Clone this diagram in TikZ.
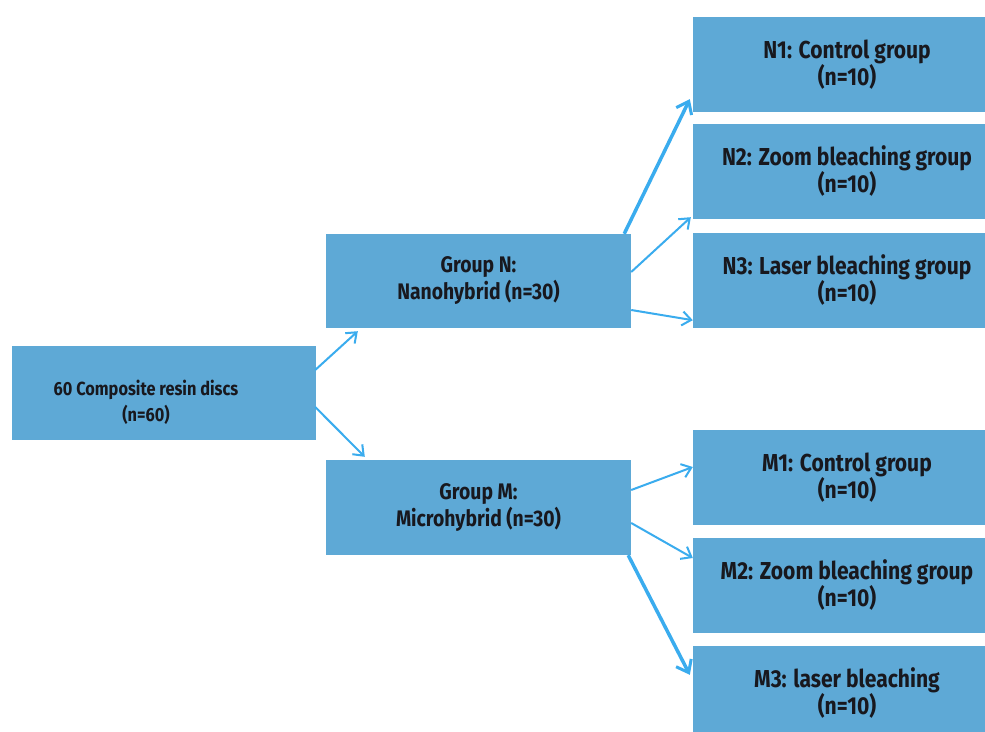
\documentclass[tikz,border=0pt]{standalone}
\usepackage{fontspec}
\setmainfont{Fira Sans}[FakeStretch=0.86]
\usetikzlibrary{calc,arrows.meta}
\definecolor{boxblue}{RGB}{94,169,214}
\definecolor{arrowblue}{RGB}{58,172,238}
\definecolor{txtdark}{RGB}{24,24,30}
\begin{document}
\begin{tikzpicture}[x=1pt,y=-1pt,
  bluebox/.style={fill=boxblue,draw=none,minimum width=#1,minimum height=95pt,inner sep=0pt,anchor=center},
  bluebox/.default=305pt,
  bigtxt/.style={text=txtdark,font=\bfseries\fontsize{24.5}{27}\selectfont,align=center},
  midtxt/.style={text=txtdark,font=\bfseries\fontsize{22.5}{27}\selectfont,align=center},
  smalltxt/.style={text=txtdark,font=\bfseries\fontsize{19}{26}\selectfont,align=center},
  conn/.style={draw=arrowblue,line width=2pt,-{Straight Barb[length=9pt,width=14pt,line width=2pt]}},
  thickconn/.style={draw=arrowblue,line width=3.5pt,-{Straight Barb[length=11pt,width=17pt,line width=3pt]}}
]
\useasboundingbox (0,0) rectangle (985,731);
\fill[white] (0,0) rectangle (985,731);
% boxes
\node[bluebox=304pt,minimum height=94pt] (root) at (164,393) {};
\node[smalltxt] (roottxt) at (146,402) {60 Composite resin discs\\(n=60)};
\node[bluebox,minimum height=94pt,midtxt] (N) at (478.5,281) {Group N:\\Nanohybrid (n=30)};
\node[bluebox,midtxt] (M) at (478.5,507.5) {Group M:\\Microhybrid (n=30)};
\node[bluebox=308pt,bigtxt] (N1) at (847,64.5) {N1: Control group\\(n=10)};
\node[bluebox=308pt,bigtxt] (N2) at (847,171.5) {N2: Zoom bleaching group\\(n=10)};
\node[bluebox=308pt,bigtxt] (N3) at (847,280.5) {N3: Laser bleaching group\\(n=10)};
\node[bluebox=308pt,bigtxt] (M1) at (847,477.5) {M1: Control group\\(n=10)};
\node[bluebox=308pt,bigtxt] (M2) at (847,585.5) {M2: Zoom bleaching group\\(n=10)};
\node[bluebox=308pt,bigtxt] (M3) at (847,693.5) {M3: laser bleaching\\(n=10)};
% connectors
\draw[conn] ($(root.east)+(-1,-23)$) -- ($(N.south west)+(32,3)$);
\draw[conn] ($(root.east)+(-1,14)$) -- ($(M.north west)+(39,-3)$);
\draw[thickconn] ($(N.north east)+(-7,0)$) -- ($(N1.south west)+(-3,-13)$);
\draw[conn] ($(N.east)+(0,-9)$) -- ($(N2.south west)+(-2,-2)$);
\draw[conn] ($(N.east)+(0,29)$) -- ($(N3.south west)+(0,-8)$);
\draw[conn] ($(M.east)+(0,-17.5)$) -- ($(M1.west)+(0,-10.5)$);
\draw[conn] ($(M.east)+(0,15.5)$) -- ($(M2.west)+(0,-27.5)$);
\draw[thickconn] ($(M.south east)+(-3,0)$) -- ($(M3.north west)+(-3,29)$);
\end{tikzpicture}
\end{document}
